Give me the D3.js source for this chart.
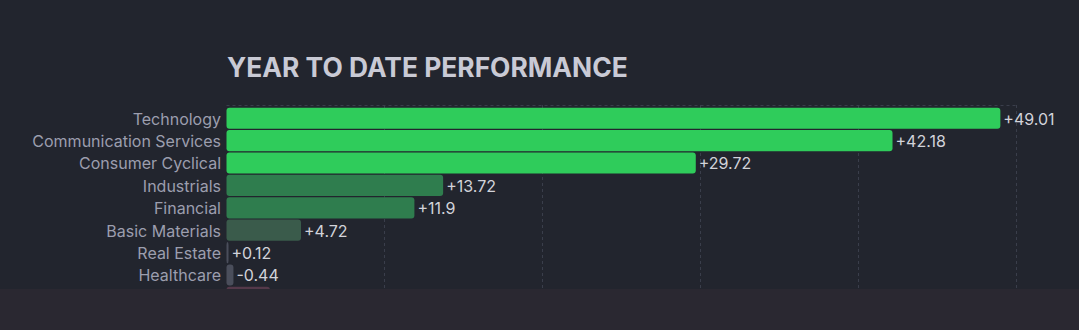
<!DOCTYPE html>
<html><head><meta charset="utf-8">
<script src="https://cdn.jsdelivr.net/npm/d3@7"></script>
<style>
html,body{margin:0;padding:0;background:#22252e;}
svg{display:block;}
</style></head>
<body><svg id="c" width="1079" height="330"></svg>
<script>
const categories = ["Technology","Communication Services","Consumer Cyclical","Industrials","Financial","Basic Materials","Real Estate","Healthcare","Utilities"];
const values = [49.01, 42.18, 29.72, 13.72, 11.9, 4.72, 0.12, -0.44, -2.75];
const valueLabels = ["+49.01","+42.18","+29.72","+13.72","+11.9","+4.72","+0.12","-0.44","-2.75"];
const gridTicks = [10, 20, 30, 40, 50];
const title = "YEAR TO DATE PERFORMANCE";

function barColor(v){
  if (v >= 20) return "#2fcc5b";
  if (v >= 8) return "#2f7d4e";
  if (v >= 2) return "#3a5b4b";
  if (v > -2) return "#4a4e5b";
  return "#54394a";
}

const svg = d3.select("#c");
const font = "Inter, 'Noto Sans', sans-serif";

const x = d3.scaleLinear().domain([0, 50]).range([226.5, 1016]);
const y = d3.scaleBand().domain(categories).range([107, 107 + 9*22.4]).paddingInner(0.055).paddingOuter(0.03);

// title
svg.append("text").attr("x", 227).attr("y", 77)
  .attr("font-family", font).attr("font-weight", 700).attr("font-size", 26.4)
  .attr("fill", "#c9cad5").text(title);

// grid
const g = svg.append("g");
g.append("line").attr("x1", x(0)).attr("x2", x(50)).attr("y1", 105.5).attr("y2", 105.5)
  .attr("stroke", "#3a3e4b").attr("stroke-dasharray", "3,3");
g.selectAll("line.v").data(gridTicks).join("line").attr("class","v")
  .attr("x1", d => Math.round(x(d)) + 0.5).attr("x2", d => Math.round(x(d)) + 0.5)
  .attr("y1", 105).attr("y2", 330)
  .attr("stroke", "#3a3e4b").attr("stroke-dasharray", "3,3");

// bars
svg.selectAll("rect.bar").data(values).join("rect").attr("class","bar")
  .attr("x", x(0))
  .attr("y", (d,i) => y(categories[i]))
  .attr("width", d => Math.max(2, x(Math.abs(d)) - x(0)))
  .attr("height", y.bandwidth())
  .attr("rx", 3).attr("ry", 3)
  .attr("fill", d => barColor(d));

// category labels
svg.selectAll("text.cat").data(categories).join("text").attr("class","cat")
  .attr("x", 221).attr("y", d => y(d) + y.bandwidth()/2 + 0.8)
  .attr("dy", "0.35em").attr("text-anchor", "end")
  .attr("font-family", font).attr("font-size", 16)
  .attr("fill", "#9c9eae").text(d => d);

// value labels
svg.selectAll("text.val").data(values).join("text").attr("class","val")
  .attr("x", d => x(0) + Math.max(2, x(Math.abs(d)) - x(0)) + 3)
  .attr("y", (d,i) => y(categories[i]) + y.bandwidth()/2 + 0.8)
  .attr("dy", "0.35em")
  .attr("font-family", font).attr("font-size", 16)
  .attr("fill", "#d2d3da").text((d,i) => valueLabels[i]);

// bottom overlay band
svg.append("rect").attr("x", 0).attr("y", 289).attr("width", 1079).attr("height", 41).attr("fill", "#2a2831");
</script></body></html>
